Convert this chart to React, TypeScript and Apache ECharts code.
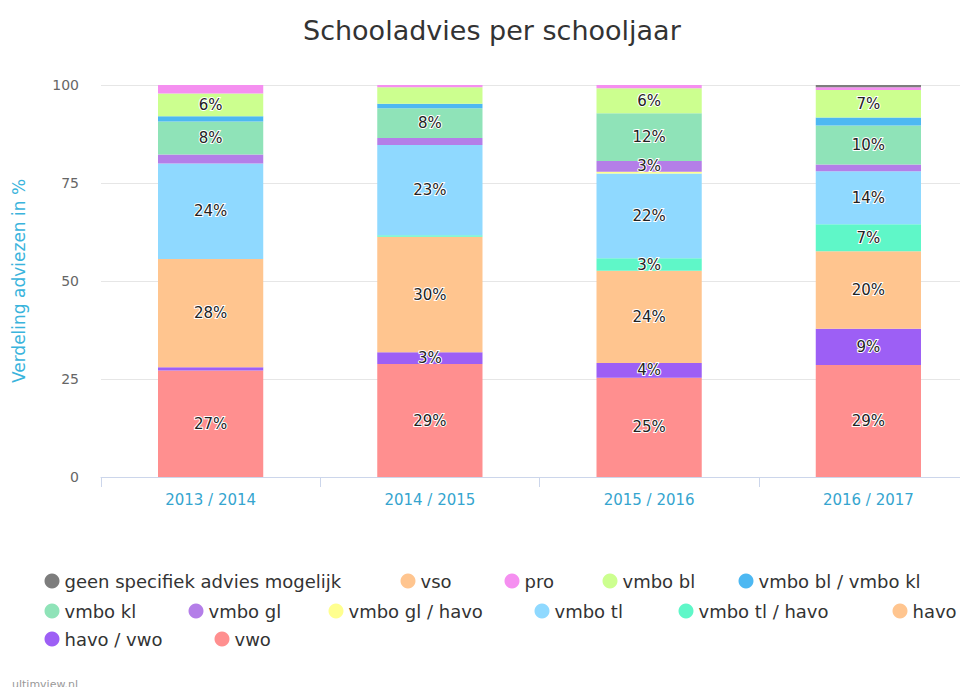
import React, { useEffect, useRef } from "react";
import * as echarts from "echarts";

const years = ["2013 / 2014", "2014 / 2015", "2015 / 2016", "2016 / 2017"];
const yTicks = [0, 25, 50, 75, 100];

// stacking order bottom -> top
const vwo = [27.2, 28.8, 25.3, 28.6];
const havoVwo = [0.8, 3.0, 3.8, 9.2];
const havo = [27.6, 29.5, 23.5, 19.8];
const vmboTlHavo = [0, 0.4, 3.2, 6.9];
const vmboTl = [24.4, 23.0, 21.6, 13.5];
const vmboGlHavo = [0, 0, 0.5, 0];
const vmboGl = [2.3, 1.8, 2.7, 1.7];
const vmboKl = [8.4, 7.6, 12.2, 10.0];
const vmboBlKl = [1.3, 1.1, 0, 2.0];
const vmboBl = [5.8, 4.2, 6.4, 7.0];
const pro = [2.2, 0.6, 0.8, 0.7];
const vso = [0, 0, 0, 0];
const geen = [0, 0, 0, 0.6];

// labels not drawn in the original (series name, category index)
const hiddenLabels: [string, number][] = [["vmbo bl", 1]];

const seriesDefs = [
  { name: "vwo", data: vwo, color: "#ff8f8f" },
  { name: "havo / vwo", data: havoVwo, color: "#9d5ff5" },
  { name: "havo", data: havo, color: "#ffc58f" },
  { name: "vmbo tl / havo", data: vmboTlHavo, color: "#5ff7c8" },
  { name: "vmbo tl", data: vmboTl, color: "#8fd9ff" },
  { name: "vmbo gl / havo", data: vmboGlHavo, color: "#ffff8f" },
  { name: "vmbo gl", data: vmboGl, color: "#b47ee8" },
  { name: "vmbo kl", data: vmboKl, color: "#8fe3b8" },
  { name: "vmbo bl / vmbo kl", data: vmboBlKl, color: "#4db8f2" },
  { name: "vmbo bl", data: vmboBl, color: "#ccff8f" },
  { name: "pro", data: pro, color: "#f58ff0" },
  { name: "vso", data: vso, color: "#ffc58f" },
  { name: "geen specifiek advies mogelijk", data: geen, color: "#7d7d7d" },
];

// legend rows as in the original
const legendRows: string[][] = [
  ["geen specifiek advies mogelijk", "vso", "pro", "vmbo bl", "vmbo bl / vmbo kl"],
  ["vmbo kl", "vmbo gl", "vmbo gl / havo", "vmbo tl", "vmbo tl / havo", "havo"],
  ["havo / vwo", "vwo"],
];
// icon centre x of each legend item (layout)
const legendX: number[][] = [
  [47, 403, 507, 605, 741],
  [47, 191, 331, 537, 681, 895],
  [47, 217],
];
const legendY = [567, 597, 625];

const FONT = "DejaVu Sans";

export default function App() {
  const ref = useRef<HTMLDivElement>(null);
  useEffect(() => {
    if (!ref.current) return;
    const chart = echarts.init(ref.current, undefined, { renderer: "svg" });
    const legends: any[] = [];
    legendRows.forEach((row, r) =>
      row.forEach((name, i) =>
        legends.push({
          data: [name],
          left: legendX[r][i] - 7.5,
          top: legendY[r],
          icon: "circle",
          itemWidth: 15,
          itemHeight: 15,
          itemGap: 5,
          textStyle: { fontFamily: FONT, fontSize: 18, color: "#333333" },
        })
      )
    );
    chart.setOption({
      animation: false,
      backgroundColor: "#ffffff",
      textStyle: { fontFamily: FONT },
      title: {
        text: "Schooladvies per schooljaar",
        left: 298,
        top: 12,
        textStyle: { fontFamily: FONT, fontSize: 27, fontWeight: "normal", color: "#333333" },
      },
      grid: { left: 101, width: 877, top: 85, bottom: 218, containLabel: false },
      legend: legends,
      xAxis: {
        type: "category",
        data: years,
        axisLine: { lineStyle: { color: "#ccd6eb" } },
        axisTick: { show: true, length: 10, lineStyle: { color: "#ccd6eb" } },
        axisLabel: { color: "#35a5cf", fontSize: 15, margin: 15, fontFamily: FONT },
      },
      yAxis: {
        type: "value",
        min: 0,
        max: 100,
        interval: 25,
        name: "Verdeling adviezen in %",
        nameLocation: "middle",
        nameGap: 74,
        nameTextStyle: { color: "#3ab4dc", fontSize: 17, fontFamily: FONT },
        axisLabel: {
          color: "#666666",
          fontSize: 14,
          margin: 22,
          fontFamily: FONT,
          formatter: (v: number) => (yTicks.includes(v) ? String(v) : ""),
        },
        splitLine: { lineStyle: { color: "#e6e6e6" } },
        axisLine: { show: false },
        axisTick: { show: false },
      },
      series: seriesDefs.map((s) => ({
        name: s.name,
        type: "bar",
        stack: "total",
        barWidth: "48%",
        data: s.data.map((v, i) =>
          hiddenLabels.some(([n, idx]) => n === s.name && idx === i)
            ? { value: v, label: { show: false } }
            : v
        ),
        itemStyle: { color: s.color },
        label: {
          show: true,
          position: "inside",
          fontSize: 15,
          fontFamily: FONT,
          color: "#222222",
          textBorderColor: "#ffffff",
          textBorderWidth: 2,
          formatter: (p: any) => (p.value >= 2.5 ? Math.round(p.value) + "%" : ""),
        },
      })),
      graphic: [
        {
          type: "text",
          left: 12,
          top: 679,
          style: { text: "ultimview.nl", fill: "#999999", fontSize: 11, fontFamily: FONT },
        },
      ],
    });
    return () => chart.dispose();
  }, []);
  return (
    <div style={{ width: 968, height: 695, margin: -8, overflow: "hidden", position: "relative" }}>
      <div ref={ref} style={{ width: 985, height: 695 }} />
    </div>
  );
}
